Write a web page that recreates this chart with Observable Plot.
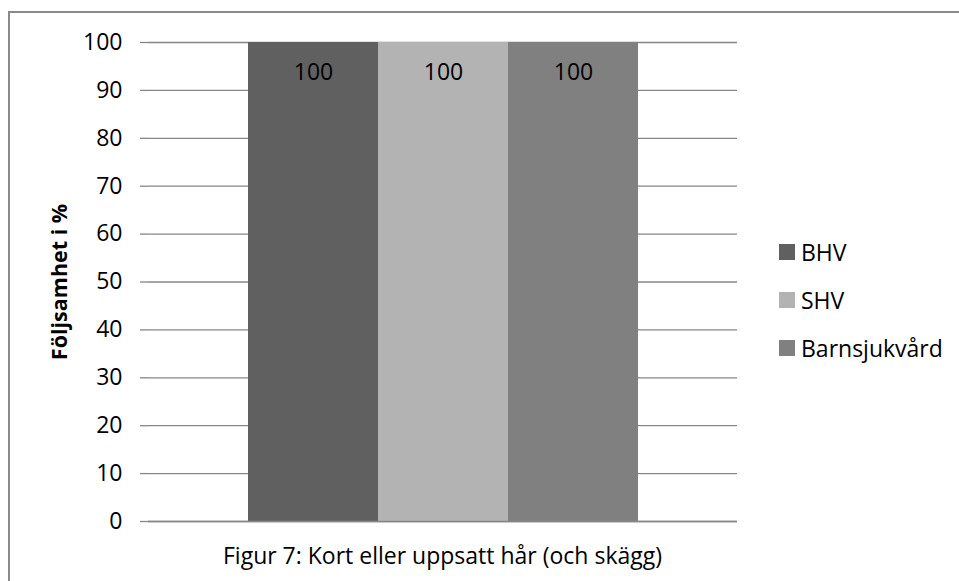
<!DOCTYPE html>
<html>
<head>
<meta charset="utf-8">
<script src="https://cdn.jsdelivr.net/npm/d3@7"></script>
<script src="https://cdn.jsdelivr.net/npm/@observablehq/plot@0.6"></script>
<style>
  html, body { margin: 0; padding: 0; background: #fff; }
  #wrap { position: relative; width: 959px; height: 581px; overflow: hidden; font-family: "Open Sans", Lato, sans-serif; }
  #frame { position: absolute; left: 8px; top: 11px; width: 960px; height: 600px; border-top: 2px solid #8a8a8a; border-left: 2px solid #8a8a8a; box-sizing: border-box; }
  #chart { position: absolute; left: 0; top: 0; }
  #legend { position: absolute; left: 779px; top: 228px; font-size: 23px; color: #000; }
  .item { display: flex; align-items: center; height: 48px; }
  .sw { width: 16px; height: 16px; margin-right: 6px; }
  #caption { position: absolute; left: 148px; width: 589px; top: 539px; text-align: center; font-size: 23px; color: #000; }
</style>
</head>
<body>
<div id="wrap">
  <div id="frame"></div>
  <div id="chart"></div>
  <div id="legend"></div>
  <div id="caption"></div>
</div>
<script>
// Följsamhet per verksamhet (procent)
const series = ["BHV", "SHV", "Barnsjukvård"];
const values = [100, 100, 100];
const colors = ["#606060", "#b3b3b3", "#808080"];
const yTicks = [0, 10, 20, 30, 40, 50, 60, 70, 80, 90, 100];
const yLabel = "Följsamhet i %";
const caption = "Figur 7: Kort eller uppsatt hår (och skägg)";

const data = series.map((s, i) => ({ series: s, value: values[i] }));
const axisColor = "#868686";

const chart = Plot.plot({
  width: 959,
  height: 581,
  marginLeft: 148,
  marginRight: 222,
  marginTop: 42,
  marginBottom: 60,
  style: { fontFamily: "'Open Sans', Lato, sans-serif", background: "transparent", overflow: "visible" },
  x: { type: "band", domain: series, paddingInner: 0, paddingOuter: 0.75, axis: null },
  y: { domain: [0, 100], axis: null },
  color: { domain: series, range: colors },
  marks: [
    Plot.gridY(yTicks, { stroke: axisColor, strokeOpacity: 1, strokeWidth: 1.3 }),
    Plot.axisY(yTicks, {
      tickSize: 8, tickPadding: 18, stroke: axisColor, strokeWidth: 1.3,
      fontSize: 23, fill: "#000", label: null
    }),
    Plot.barY(data, { x: "series", y: "value", fill: "series" }),
    Plot.text(data, { x: "series", y: "value", text: d => String(d.value), dy: 30, fontSize: 23, fill: "#000" }),
    // value axis line, extended down to the category-axis tick length
    Plot.ruleX([null], { frameAnchor: "left", y1: 100, y2: 0, insetBottom: -8, stroke: axisColor, strokeWidth: 1.3 }),
    Plot.ruleX([null], { frameAnchor: "right", y1: 0, y2: 0, insetBottom: -8, stroke: axisColor, strokeWidth: 1.3 }),
    Plot.ruleY([0], { stroke: axisColor, strokeWidth: 1.3 }),
    Plot.text([yLabel], {
      frameAnchor: "left", textAnchor: "middle", text: d => d, rotate: -90, dx: -88,
      fontSize: 21.5, fontWeight: "bold", fill: "#000"
    })
  ]
});
document.getElementById("chart").appendChild(chart);

const legend = document.getElementById("legend");
series.forEach((s, i) => {
  const row = document.createElement("div");
  row.className = "item";
  const sw = document.createElement("div");
  sw.className = "sw";
  sw.style.background = colors[i];
  const t = document.createElement("span");
  t.textContent = s;
  row.appendChild(sw);
  row.appendChild(t);
  legend.appendChild(row);
});
document.getElementById("caption").textContent = caption;
</script>
</body>
</html>
